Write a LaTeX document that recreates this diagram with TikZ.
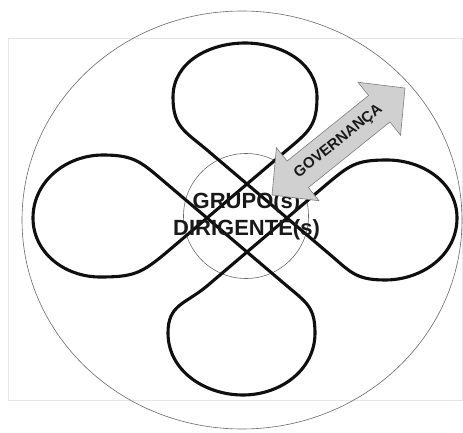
\documentclass[tikz,border=0pt]{standalone}
\usepackage{fontspec}
\setsansfont{Liberation Sans}[BoldFont={Liberation Sans Bold}]
\usetikzlibrary{calc}
\definecolor{lpline}{RGB}{15,15,15}
\definecolor{lpring}{RGB}{105,105,105}
\definecolor{lparrow}{RGB}{208,208,208}
\definecolor{lparrowedge}{RGB}{125,125,125}
\definecolor{lpframe}{RGB}{230,230,230}
\definecolor{lptext}{RGB}{25,25,25}
\tikzset{
  ring/.style={draw=lpring, line width=0.6pt},
  loopline/.style={draw=lpline, line width=3.1pt, line join=round},
  blockarrow/.style={draw=lparrowedge, fill=lparrow, line width=0.6pt},
  centre/.style={
    font=\sffamily\bfseries\fontsize{22}{27}\selectfont,
    text=lptext, align=center, inner sep=0pt
  },
  govlabel/.style={font=\sffamily\bfseries\fontsize{15}{15}\selectfont, text=lptext, inner sep=0pt},
  frame/.style={draw=lpframe, line width=0.6pt}
}

\begin{document}
\begin{tikzpicture}[x=1pt,y=1pt]
  \useasboundingbox (0,0) rectangle (463,432);
  \draw[frame] (8,32) rectangle (462,394);

  % Outer and inner rings
  \draw[ring] (242,212) ellipse [x radius=220, y radius=209];
  \node[ring, circle, minimum size=125pt, inner sep=0pt] (core) at (246,216) {};

  % Crossing points of the four straight runs
  \coordinate (ct) at (247,248);
  \coordinate (cr) at (287,214);
  \coordinate (cb) at (247,180);
  \coordinate (cl) at (207,214);

  % One closed line, four loops
  \draw[loopline] (ct) -- (cr) -- (327,180)
    to[out=-40,in=180,looseness=1.2] (385,152) to[out=0,in=-90] (457,214)
    to[out=90,in=0] (387,272) to[out=180,in=40,looseness=1.2] (327,248)
    -- (cr) -- (cb) -- (207,146)
    to[out=-140,in=90,looseness=1.2] (168,99) to[out=-90,in=180] (243,37)
    to[out=0,in=-90] (315,99) to[out=90,in=-40,looseness=1.2] (287,146)
    -- (cb) -- (cl) -- (167,248)
    to[out=140,in=0,looseness=1.2] (103,277) to[out=180,in=90] (33,214)
    to[out=-90,in=180] (100,155) to[out=0,in=-140,looseness=1.2] (167,180)
    -- (cl) -- (ct) -- (287,282)
    to[out=40,in=-90,looseness=1.2] (317,335) to[out=90,in=0] (245,389)
    to[out=180,in=90] (173,335) to[out=-90,in=140,looseness=1.2] (207,282)
    -- cycle;

  \node[centre] (grupo) at (246.5,215.5) {GRUPO(s)\\DIRIGENTE(s)};

  % Double block arrow
  \begin{scope}[shift={(338.5,290.5)}, rotate=38.8]
    \draw[blockarrow] (-85.3,0) -- (-52.3,34) -- (-52.3,17) -- (52.3,17)
      -- (52.3,34) -- (85.3,0) -- (52.3,-34) -- (52.3,-17)
      -- (-52.3,-17) -- (-52.3,-34) -- cycle;
    \node[govlabel, rotate=38.8] (gov) at (0,0) {GOVERNANÇA};
  \end{scope}
\end{tikzpicture}
\end{document}
